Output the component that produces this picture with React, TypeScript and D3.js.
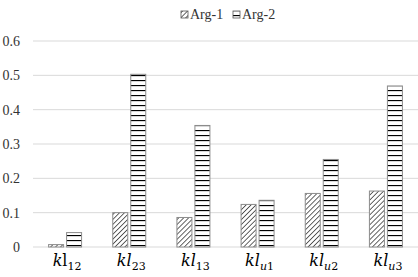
import React, { useEffect, useRef } from 'react';
import * as d3 from 'd3';

const categories = ['12', '23', '13', 'u1', 'u2', 'u3'];
const arg1 = [0.007, 0.1, 0.086, 0.124, 0.156, 0.163];
const arg2 = [0.042, 0.503, 0.354, 0.136, 0.255, 0.469];
const seriesNames = ['Arg-1', 'Arg-2'];
const yTicks = [0, 0.1, 0.2, 0.3, 0.4, 0.5, 0.6];

const SERIF = 'Liberation Serif, Times New Roman, Times, DejaVu Serif, serif';
const MATH = 'DejaVu Serif, Liberation Serif, serif';

export default function App() {
  const ref = useRef<SVGSVGElement>(null);

  useEffect(() => {
    const width = 418;
    const svg = d3.select(ref.current);
    svg.selectAll('*').remove();

    const defs = svg.append('defs');
    const diag = defs.append('pattern')
      .attr('id', 'diag')
      .attr('patternUnits', 'userSpaceOnUse')
      .attr('width', 3.5)
      .attr('height', 3.5)
      .attr('patternTransform', 'rotate(45)');
    diag.append('rect').attr('width', 3.5).attr('height', 3.5).attr('fill', '#fff');
    diag.append('line')
      .attr('x1', 0).attr('y1', 0).attr('x2', 0).attr('y2', 3.5)
      .attr('stroke', '#222').attr('stroke-width', 1.4);

    const horiz = defs.append('pattern')
      .attr('id', 'horiz')
      .attr('patternUnits', 'userSpaceOnUse')
      .attr('width', 8)
      .attr('height', 5);
    horiz.append('rect').attr('width', 8).attr('height', 5).attr('fill', '#fff');
    horiz.append('line')
      .attr('x1', 0).attr('y1', 0.5).attr('x2', 8).attr('y2', 0.5)
      .attr('stroke', '#000').attr('stroke-width', 1.3);

    const x = d3.scaleBand().domain(categories).range([33, 418]);
    const y = d3.scaleLinear().domain([0, 0.6]).range([247, 41]);

    // gridlines + y labels
    svg.append('g')
      .selectAll('line')
      .data(yTicks)
      .enter()
      .append('line')
      .attr('x1', 33).attr('x2', width)
      .attr('y1', (d) => y(d)).attr('y2', (d) => y(d))
      .attr('stroke', '#d9d9d9').attr('stroke-width', 1);

    svg.append('g')
      .selectAll('text')
      .data(yTicks)
      .enter()
      .append('text')
      .attr('x', 20)
      .attr('y', (d) => y(d) + 5)
      .attr('text-anchor', 'end')
      .attr('font-family', SERIF)
      .attr('font-size', 14)
      .attr('fill', '#333')
      .text((d) => (d === 0 ? '0' : d3.format('.1f')(d)));

    const barW = 15;
    const gap = 3;
    const series = [arg1, arg2];
    const fills = ['url(#diag)', 'url(#horiz)'];

    series.forEach((vals, si) => {
      svg.append('g')
        .selectAll('rect')
        .data(vals)
        .enter()
        .append('rect')
        .attr('x', (_, i) => x(categories[i])! + x.bandwidth() / 2 + (si === 0 ? -barW - gap / 2 : gap / 2))
        .attr('y', (d) => y(d))
        .attr('width', barW)
        .attr('height', (d) => y(0) - y(d))
        .attr('fill', fills[si])
        .attr('stroke', '#8c8c8c')
        .attr('stroke-width', 1);
    });

    // category labels
    const labels = svg.append('g')
      .selectAll('text')
      .data(categories)
      .enter()
      .append('text')
      .attr('x', (d) => x(d)! + x.bandwidth() / 2 + 2)
      .attr('y', 266)
      .attr('text-anchor', 'middle')
      .attr('font-family', MATH)
      .attr('font-size', 16)
      .attr('fill', '#000');
    labels.append('tspan').attr('font-style', 'italic').text('k');
    labels.append('tspan')
      .attr('font-style', (d, i) => (i === 0 ? 'normal' : 'italic'))
      .text('l');
    labels.append('tspan')
      .attr('dy', 4)
      .attr('font-size', 11)
      .attr('font-style', (d) => (d.startsWith('u') ? 'italic' : 'normal'))
      .text((d) => d[0]);
    labels.append('tspan')
      .attr('font-size', 11)
      .attr('font-style', 'normal')
      .text((d) => d.slice(1));

    // legend
    const legend = svg.append('g');
    const lx = [181, 233];
    seriesNames.forEach((name, i) => {
      legend.append('rect')
        .attr('x', lx[i]).attr('y', 11)
        .attr('width', 7).attr('height', 7)
        .attr('fill', fills[i])
        .attr('stroke', '#555').attr('stroke-width', 0.8);
      legend.append('text')
        .attr('x', lx[i] + 9).attr('y', 19)
        .attr('font-family', SERIF)
        .attr('font-size', 14)
        .attr('fill', '#333')
        .text(name);
    });
  }, []);

  return (
    <svg
      ref={ref}
      width={418}
      height={277}
      style={{ position: 'absolute', left: 0, top: 0, background: '#fff' }}
    />
  );
}
